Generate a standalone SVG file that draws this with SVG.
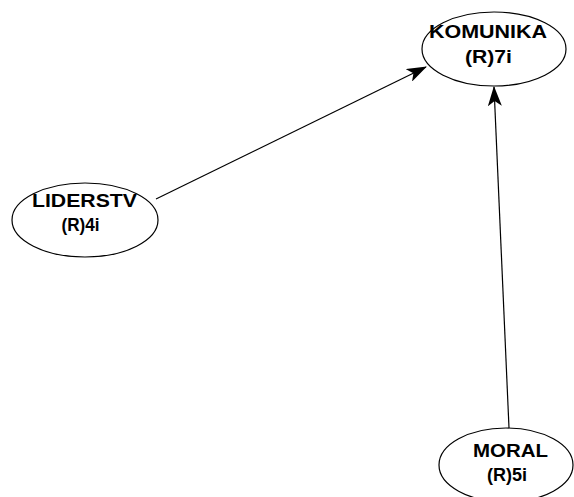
<svg xmlns="http://www.w3.org/2000/svg" width="574" height="497" viewBox="0 0 574 497">
  <style>
    .node ellipse { fill: #ffffff; stroke: #000000; stroke-width: 1.2; }
    .node text { font-family: "Liberation Sans", Arial, sans-serif; font-weight: bold; font-size: 18px; fill: #000000; text-anchor: middle; }
    .edge { stroke: #000000; stroke-width: 1.2; fill: none; marker-end: url(#arrow); }
  </style>
  <defs>
    <marker id="arrow" viewBox="0 0 20 14" refX="19" refY="7" markerWidth="20" markerHeight="14" markerUnits="userSpaceOnUse" orient="auto">
      <path d="M0,0 L20,7 L0,14 L5,7 Z" fill="#000000"/>
    </marker>
  </defs>
  <rect width="574" height="497" fill="#ffffff"/>

  <g id="connectors">
    <line class="edge" x1="156" y1="199" x2="426" y2="67"/>
    <line class="edge" x1="509" y1="428" x2="494" y2="87"/>
  </g>

  <g id="komunika" class="node">
    <ellipse cx="494" cy="49" rx="72" ry="37"/>
    <text x="488" y="38" textLength="118" lengthAdjust="spacingAndGlyphs">KOMUNIKA</text>
    <text x="488.5" y="63" textLength="47" lengthAdjust="spacingAndGlyphs">(R)7i</text>
  </g>

  <g id="liderstv" class="node">
    <ellipse cx="85" cy="220" rx="73" ry="37"/>
    <text x="84.5" y="207" textLength="105" lengthAdjust="spacingAndGlyphs">LIDERSTV</text>
    <text x="80.5" y="231" textLength="38" lengthAdjust="spacingAndGlyphs">(R)4i</text>
  </g>

  <g id="moral" class="node">
    <ellipse cx="506" cy="465" rx="67" ry="37"/>
    <text x="510.5" y="457" textLength="75" lengthAdjust="spacingAndGlyphs">MORAL</text>
    <text x="507" y="481" textLength="40" lengthAdjust="spacingAndGlyphs">(R)5i</text>
  </g>
</svg>
